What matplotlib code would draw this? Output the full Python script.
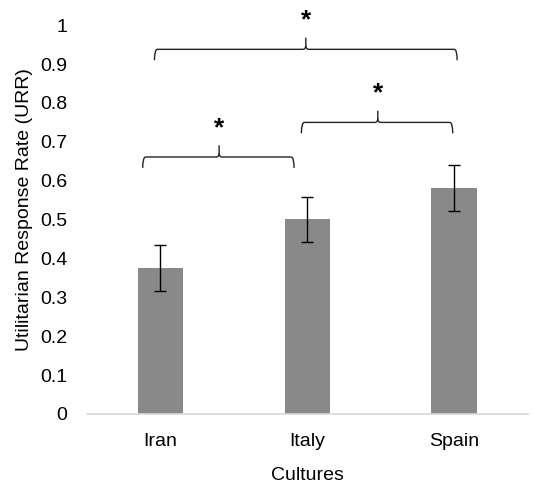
import numpy as np
from matplotlib import pyplot as plt
from matplotlib.path import Path
from matplotlib.patches import PathPatch

plt.rcParams['font.family'] = ['Liberation Sans', 'DejaVu Sans']

cultures = ['Iran', 'Italy', 'Spain']
urr = [0.375, 0.501, 0.581]
urr_err = [0.059, 0.058, 0.059]

# brackets: (x left, x right, x tip, y line, label)
brackets = [
    (-0.12, 0.91, 0.40, 0.661, '*'),
    (0.96, 1.99, 1.48, 0.750, '*'),
    (-0.04, 2.02, 0.99, 0.938, '*'),
]

def draw_brace(ax, x0, x1, xm, y, label):
    drop = 0.028
    rise = 0.03
    r = 0.02
    ry = 0.01
    verts = [
        (x0, y - drop), (x0, y), (x0 + r, y),
        (xm - r, y), (xm, y), (xm, y + ry),
        (xm, y + rise),
    ]
    codes = [Path.MOVETO, Path.CURVE3, Path.CURVE3,
             Path.LINETO, Path.CURVE3, Path.CURVE3, Path.LINETO]
    ax.add_patch(PathPatch(Path(verts, codes), fill=False, lw=1.0, ec='#222222', clip_on=False))
    verts = [
        (x1, y - drop), (x1, y), (x1 - r, y),
        (xm + r, y), (xm, y), (xm, y + ry),
    ]
    codes = [Path.MOVETO, Path.CURVE3, Path.CURVE3,
             Path.LINETO, Path.CURVE3, Path.CURVE3]
    ax.add_patch(PathPatch(Path(verts, codes), fill=False, lw=1.0, ec='#222222', clip_on=False))
    ax.text(xm, y + 0.075, label, ha='center', va='center', fontsize=19,
            fontweight='bold', clip_on=False)

fig = plt.figure(figsize=(5.33, 4.83), dpi=100)
ax = fig.add_axes([0.163, 0.143, 0.827, 0.845])

x = np.arange(len(cultures))
ax.bar(x, urr, width=0.31, color='#898989', zorder=2)
ax.errorbar(x, urr, yerr=urr_err, fmt='none', ecolor='black', elinewidth=1.0,
            capsize=4, capthick=1.0, zorder=3)

for b in brackets:
    draw_brace(ax, *b)

ax.set_xlim(-0.5, 2.5)
ax.set_ylim(0, 1.05)
ax.set_yticks(np.arange(0, 1.01, 0.1))
ax.set_yticklabels(['0', '0.1', '0.2', '0.3', '0.4', '0.5', '0.6', '0.7', '0.8', '0.9', '1'])
ax.set_xticks(x)
ax.set_xticklabels(cultures)
ax.tick_params(axis='both', length=0, labelsize=14, colors='black')
ax.tick_params(axis='y', pad=14)
ax.tick_params(axis='x', pad=14)

for s in ['top', 'right', 'left']:
    ax.spines[s].set_visible(False)
ax.spines['bottom'].set_color('#d9d9d9')
ax.spines['bottom'].set_linewidth(1.2)

ax.set_xlabel('Cultures', fontsize=14, labelpad=12)
ax.set_ylabel('Utilitarian Response Rate (URR)', fontsize=14, labelpad=5)

fig.savefig('out.png', dpi=100)
